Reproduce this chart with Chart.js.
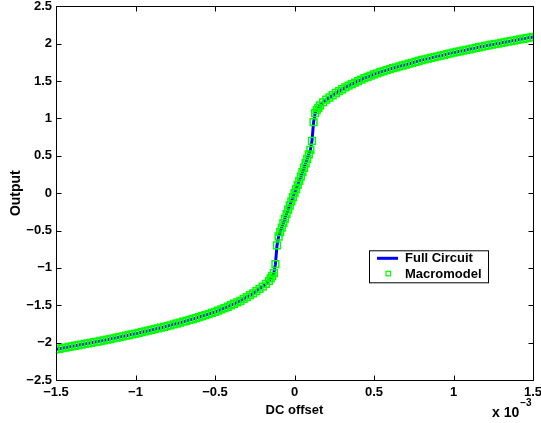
<!DOCTYPE html>
<html>
<head>
<meta charset="utf-8">
<script src="https://cdn.jsdelivr.net/npm/chart.js@4/dist/chart.umd.min.js"></script>
<style>
html,body{margin:0;padding:0;background:#fff;}
#wrap{width:541px;height:423px;position:relative;}
</style>
</head>
<body>
<div id="wrap"><canvas id="c" width="541" height="423"></canvas></div>
<script>
// DC offset in units of 1e-3
const dcOffset = [
-1.50,-1.48,-1.46,-1.44,-1.42,-1.40,-1.38,-1.36,-1.34,-1.32,-1.30,-1.28,-1.26,-1.24,-1.22,-1.20,
-1.18,-1.16,-1.14,-1.12,-1.10,-1.08,-1.06,-1.04,-1.02,-1.00,-0.98,-0.96,-0.94,-0.92,-0.90,
-0.88,-0.86,-0.84,-0.82,-0.80,-0.78,-0.76,-0.74,-0.72,-0.70,-0.68,-0.66,-0.64,-0.62,-0.60,
-0.58,-0.56,-0.54,-0.52,-0.50,-0.48,-0.46,-0.44,-0.42,-0.40,-0.38,-0.36,-0.34,-0.32,-0.30,
-0.28,-0.26,-0.24,-0.22,-0.20,-0.18,-0.16,
-0.15,-0.14,-0.13,-0.12,-0.11,-0.10,-0.09,-0.08,-0.07,-0.06,-0.05,-0.04,-0.03,-0.02,-0.01,
0.00,0.01,0.02,0.03,0.04,0.05,0.06,0.07,0.08,0.09,0.10,0.11,0.12,0.13,0.14,0.15,
0.16,0.18,0.20,0.22,0.24,0.26,0.28,0.30,0.32,0.34,0.36,0.38,0.40,0.42,0.44,0.46,0.48,0.50,
0.52,0.54,0.56,0.58,0.60,0.62,0.64,0.66,0.68,0.70,0.72,0.74,0.76,0.78,0.80,
0.82,0.84,0.86,0.88,0.90,0.92,0.94,0.96,0.98,1.00,1.02,1.04,1.06,1.08,1.10,1.12,1.14,1.16,1.18,1.20,
1.22,1.24,1.26,1.28,1.30,1.32,1.34,1.36,1.38,1.40,1.42,1.44,1.46,1.48,1.50
];
const outputValues = [
-2.09,-2.082,-2.074,-2.066,-2.058,-2.05,-2.042,-2.034,-2.026,-2.018,-2.01,-2.002,-1.994,-1.986,-1.978,-1.97,
-1.961,-1.952,-1.943,-1.934,-1.925,-1.916,-1.907,-1.898,-1.889,-1.88,-1.87,-1.86,-1.85,-1.84,-1.83,
-1.82,-1.81,-1.80,-1.79,-1.78,-1.768,-1.756,-1.744,-1.732,-1.72,-1.708,-1.696,-1.684,-1.672,-1.66,
-1.646,-1.632,-1.618,-1.603,-1.588,-1.572,-1.556,-1.538,-1.52,-1.50,-1.48,-1.46,-1.44,-1.415,-1.39,
-1.365,-1.34,-1.31,-1.28,-1.25,-1.215,-1.175,
-1.14,-1.11,-1.07,-0.95,-0.70,-0.58,-0.52,-0.46,-0.40,-0.34,-0.28,-0.22,-0.165,-0.11,-0.055,
0.00,0.055,0.11,0.165,0.22,0.28,0.34,0.40,0.46,0.52,0.58,0.70,0.95,1.07,1.11,1.14,
1.175,1.215,1.25,1.28,1.31,1.34,1.365,1.39,1.415,1.44,1.46,1.48,1.50,1.52,1.538,1.556,1.572,1.588,
1.603,1.618,1.632,1.646,1.66,1.672,1.684,1.696,1.708,1.72,1.732,1.744,1.756,1.768,1.78,
1.79,1.80,1.81,1.82,1.83,1.84,1.85,1.86,1.87,1.88,1.889,1.898,1.907,1.916,1.925,1.934,1.943,1.952,1.961,1.97,
1.978,1.986,1.994,2.002,2.01,2.018,2.026,2.034,2.042,2.05,2.058,2.066,2.074,2.082,2.09
];
const seriesNames = ['Full Circuit', 'Macromodel'];
const xTickValues = [-1.5,-1,-0.5,0,0.5,1,1.5];
const yTickValues = [-2.5,-2,-1.5,-1,-0.5,0,0.5,1,1.5,2,2.5];
const xTitle = 'DC offset';
const yTitle = 'Output';
const xExponent = '\u22123';

const FONT = '"Liberation Sans", Arial, Helvetica, sans-serif';
const pts = dcOffset.map((x, i) => ({x: x, y: outputValues[i]}));
const fmt = v => { const s = String(Math.round(v*10)/10); return s.replace('-', '\u2212'); };

const framePlugin = {
  id: 'frame',
  afterDraw(chart) {
    const ctx = chart.ctx, a = chart.chartArea;
    const xs = chart.scales.x, ys = chart.scales.y;
    ctx.save();
    ctx.strokeStyle = '#000';
    ctx.lineWidth = 1;
    ctx.beginPath();
    const L = Math.round(a.left)+0.5, R = Math.round(a.right)+0.5, T = Math.round(a.top)+0.5, B = Math.round(a.bottom)+0.5;
    ctx.rect(L, T, R-L, B-T);
    const tl = 5;
    xTickValues.forEach(v => {
      const p = Math.round(xs.getPixelForValue(v))+0.5;
      ctx.moveTo(p, B); ctx.lineTo(p, B-tl);
      ctx.moveTo(p, T); ctx.lineTo(p, T+tl);
    });
    yTickValues.forEach(v => {
      const p = Math.round(ys.getPixelForValue(v))+0.5;
      ctx.moveTo(L, p); ctx.lineTo(L+tl, p);
      ctx.moveTo(R, p); ctx.lineTo(R-tl, p);
    });
    ctx.stroke();

    // legend
    const lx = a.left + 313, ly = a.top + 244, lw = 119, lh = 32;
    ctx.fillStyle = '#fff';
    ctx.fillRect(lx, ly, lw, lh);
    ctx.strokeRect(lx+0.5, ly+0.5, lw, lh);
    ctx.strokeStyle = '#0000ff';
    ctx.lineWidth = 3;
    ctx.beginPath();
    ctx.moveTo(lx+8, ly+8); ctx.lineTo(lx+29, ly+8);
    ctx.stroke();
    ctx.strokeStyle = '#00ff00';
    ctx.lineWidth = 1.2;
    ctx.strokeRect(lx+17, ly+21, 4.5, 4.5);
    ctx.fillStyle = '#000';
    ctx.font = 'bold 13px ' + FONT;
    ctx.textBaseline = 'middle';
    ctx.textAlign = 'left';
    ctx.fillText(seriesNames[0], lx+36, ly+8.5);
    ctx.fillText(seriesNames[1], lx+36, ly+24.5);

    // exponent label
    ctx.font = 'bold 14px ' + FONT;
    ctx.textBaseline = 'alphabetic';
    const ex = a.right - 41;
    ctx.fillText('x 10', ex, 417);
    const w = ctx.measureText('x 10').width;
    ctx.font = 'bold 10px ' + FONT;
    ctx.fillText(xExponent, ex + w + 1, 406);
    ctx.restore();
  }
};

new Chart(document.getElementById('c'), {
  type: 'scatter',
  data: {
    datasets: [
      {
        label: seriesNames[0],
        data: pts,
        showLine: true,
        borderColor: '#0000ff',
        borderWidth: 3,
        pointRadius: 0,
        fill: false,
        tension: 0,
        order: 1
      },
      {
        label: seriesNames[1],
        data: pts,
        showLine: false,
        pointStyle: 'rect',
        pointRadius: 4.8,
        pointBorderColor: '#00ff00',
        pointBackgroundColor: 'rgba(0,0,0,0)',
        pointBorderWidth: 1.5,
        order: 0
      }
    ]
  },
  options: {
    responsive: false,
    animation: false,
    events: [],
    layout: {padding: {left: 0, right: 8, top: 5, bottom: 0}},
    plugins: {legend: {display: false}, tooltip: {enabled: false}},
    scales: {
      x: {
        type: 'linear', min: -1.5, max: 1.5,
        afterBuildTicks: s => { s.ticks = xTickValues.map(v => ({value: v})); },
        afterFit: s => { s.height = 43; s.paddingLeft = 0; s.paddingRight = 0; },
        grid: {display: false, drawTicks: false},
        border: {display: false},
        ticks: {padding: 5, color: '#000', font: {family: FONT, size: 13, weight: 'bold'}, callback: v => fmt(v), maxRotation: 0, autoSkip: false},
        title: {display: true, text: xTitle, color: '#000', font: {family: FONT, size: 13, weight: 'bold'}, padding: {top: 0, bottom: 5}}
      },
      y: {
        type: 'linear', min: -2.5, max: 2.5,
        afterBuildTicks: s => { s.ticks = yTickValues.map(v => ({value: v})); },
        afterFit: s => { s.width = 56; s.paddingTop = 0; s.paddingBottom = 0; },
        grid: {display: false, drawTicks: false},
        border: {display: false},
        ticks: {padding: 4, color: '#000', font: {family: FONT, size: 13, weight: 'bold'}, callback: v => fmt(v), autoSkip: false},
        title: {display: true, text: yTitle, color: '#000', font: {family: FONT, size: 14, weight: 'bold'}, padding: {top: 8, bottom: 0}}
      }
    }
  },
  plugins: [framePlugin]
});
</script>
</body>
</html>
